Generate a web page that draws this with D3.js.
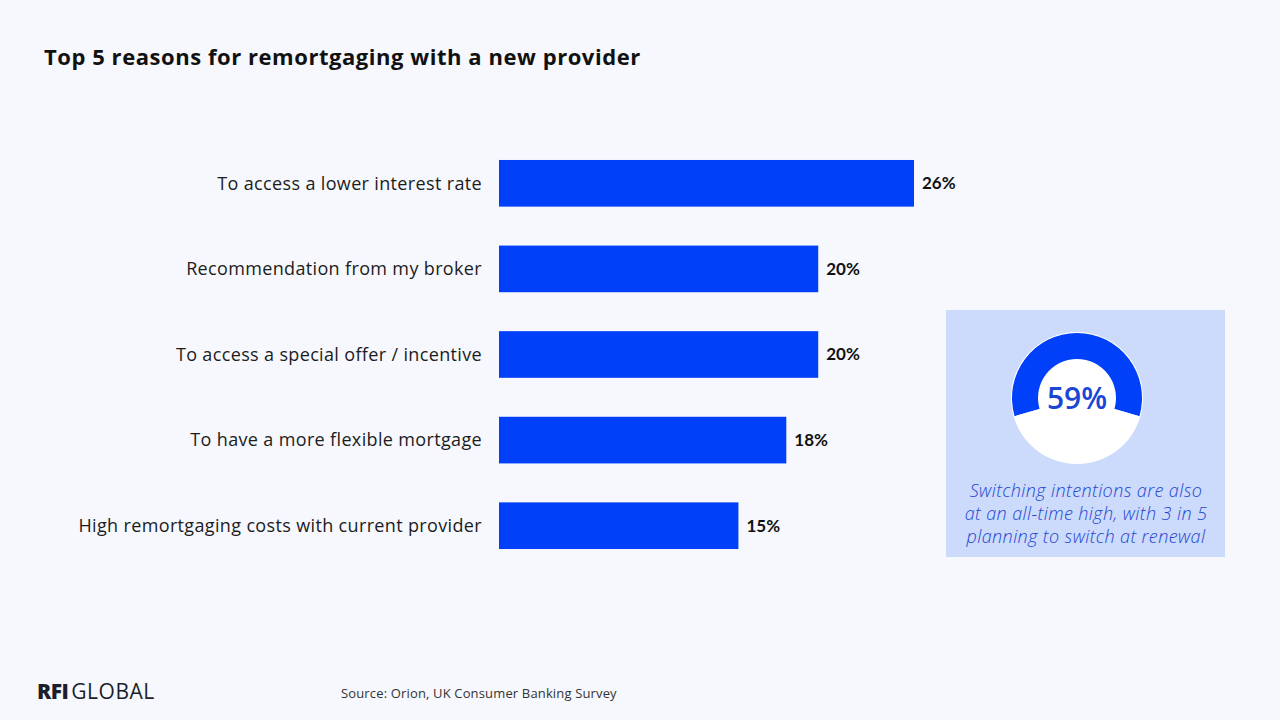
<!DOCTYPE html>
<html>
<head>
<meta charset="utf-8">
<script src="https://cdn.jsdelivr.net/npm/d3@7"></script>
<style>
  body { margin: 0; background: #f6f8fd; }
  svg { display: block; font-family: "Open Sans", Lato, sans-serif; }
</style>
</head>
<body>
<svg id="chart"></svg>
<script>
// data
const reasons = [
    'To access a lower interest rate',
    'Recommendation from my broker',
    'To access a special offer / incentive',
    'To have a more flexible mortgage',
    'High remortgaging costs with current provider'
];
const shares = [26, 20, 20, 18, 15];
const switchShare = [59, 41];
const noteLines = [
    'Switching intentions are also',
    'at an all-time high, with 3 in 5',
    'planning to switch at renewal'
];

const width = 1280, height = 720;
const blue = '#0040f8';

const svg = d3.select('#chart')
    .attr('width', width)
    .attr('height', height);

svg.append('rect')
    .attr('width', width)
    .attr('height', height)
    .attr('fill', '#f6f8fd');

svg.append('text')
    .attr('x', 44)
    .attr('y', 65)
    .attr('font-size', 22)
    .attr('font-weight', 700)
    .attr('letter-spacing', 0.55)
    .attr('fill', '#111')
    .text('Top 5 reasons for remortgaging with a new provider');

// bars
const xscale = d3.scaleLinear()
    .domain([0, 26])
    .range([499, 914]);

const yscale = d3.scaleBand()
    .domain(reasons)
    .range([142, 567])
    .paddingInner(0.455)
    .paddingOuter(0.21);

const rows = svg.append('g')
    .selectAll('g')
    .data(reasons.map((r, i) => ({ label: r, value: shares[i] })))
    .join('g');

rows.append('rect')
    .attr('x', xscale(0))
    .attr('y', d => yscale(d.label))
    .attr('width', d => xscale(d.value) - xscale(0))
    .attr('height', yscale.bandwidth())
    .attr('fill', blue);

rows.append('text')
    .attr('x', xscale(0) - 17)
    .attr('y', d => yscale(d.label) + yscale.bandwidth() / 2)
    .attr('dy', '0.35em')
    .attr('text-anchor', 'end')
    .attr('font-size', 18)
    .attr('font-weight', 400)
    .attr('letter-spacing', 0.35)
    .attr('fill', '#1c1c1c')
    .text(d => d.label);

rows.append('text')
    .attr('x', d => xscale(d.value) + 8)
    .attr('y', d => yscale(d.label) + yscale.bandwidth() / 2)
    .attr('dy', '0.35em')
    .attr('font-family', 'Lato, sans-serif')
    .attr('font-size', 17)
    .attr('font-weight', 700)
    .attr('fill', '#111')
    .text(d => d.value + '%');

// side panel
svg.append('rect')
    .attr('x', 946)
    .attr('y', 310)
    .attr('width', 279)
    .attr('height', 247)
    .attr('fill', '#ccdafc');

const donut = svg.append('g')
    .attr('transform', 'translate(1077, 398)');

const pie = d3.pie()
    .sort(null)
    .startAngle(-Math.PI * switchShare[0] / 100)
    .endAngle(2 * Math.PI - Math.PI * switchShare[0] / 100);

const arc = d3.arc()
    .innerRadius(39)
    .outerRadius(65);

donut.append('circle')
    .attr('r', 66)
    .attr('fill', '#fff');

donut.selectAll('path')
    .data(pie(switchShare))
    .join('path')
    .attr('d', arc)
    .attr('fill', (d, i) => i === 0 ? blue : '#fff');

donut.append('text')
    .attr('y', 11)
    .attr('text-anchor', 'middle')
    .attr('font-size', 30)
    .attr('font-weight', 600)
    .attr('fill', '#1a45d6')
    .text(switchShare[0] + '%');

svg.append('g')
    .selectAll('text')
    .data(noteLines)
    .join('text')
    .attr('x', 1086)
    .attr('y', (d, i) => 497 + i * 23)
    .attr('text-anchor', 'middle')
    .attr('font-size', 18)
    .attr('font-style', 'italic')
    .attr('font-weight', 300)
    .attr('letter-spacing', 0.4)
    .attr('fill', '#2447cf')
    .text(d => d);

// footer
const logo = svg.append('text')
    .attr('x', 37)
    .attr('y', 699)
    .attr('font-size', 21)
    .attr('fill', '#1a1f2b');
logo.append('tspan').attr('font-weight', 800).attr('letter-spacing', -0.5).text('RFI');
logo.append('tspan').attr('font-weight', 400).attr('dx', 3).attr('letter-spacing', 0.5).text('GLOBAL');

svg.append('text')
    .attr('x', 341)
    .attr('y', 698)
    .attr('font-size', 13)
    .attr('letter-spacing', 0.15)
    .attr('fill', '#333')
    .text('Source: Orion, UK Consumer Banking Survey');
</script>
</body>
</html>
